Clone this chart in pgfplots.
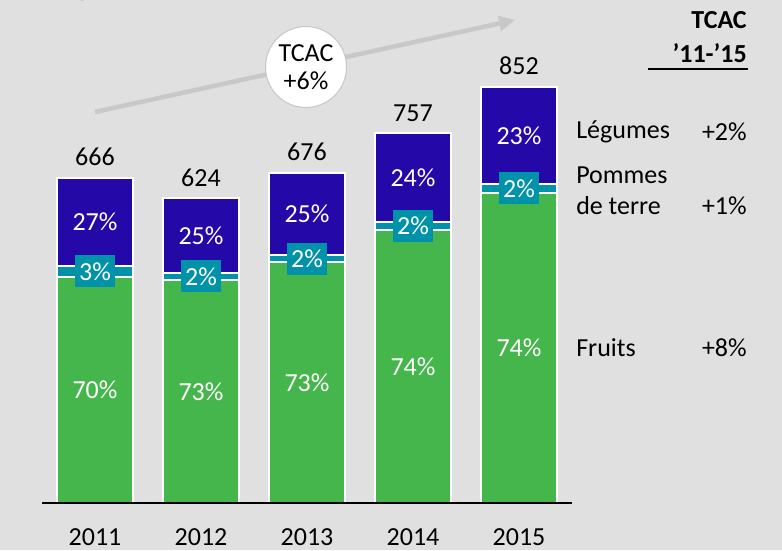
\documentclass[border=0pt]{standalone}
\usepackage{fontspec}
\setmainfont{Carlito}
\usepackage{pgfplots}
\pgfplotsset{compat=1.18}
\usetikzlibrary{arrows.meta}

\definecolor{bg}{HTML}{DFE0DF}
\definecolor{leg}{HTML}{2508A8}
\definecolor{pdt}{HTML}{0092A8}
\definecolor{fru}{HTML}{45B64B}
\definecolor{arr}{HTML}{C8C8C8}
\newcommand\fs{\fontsize{19.5}{23}\selectfont}

% values in thousand tonnes
\pgfplotstableread{
x fruits pdt leg total
0 463 23 180 666
1 457 14 153 624
2 493 14 169 676
3 560 15 182 757
4 635 19 198 852
}\data

\begin{document}
\begin{tikzpicture}[font=\fs,
    totlab/.style={anchor=base, yshift=9pt},
    pclab/.style={white},
    pdtlab/.style={white, fill=pdt, minimum width=30pt, minimum height=24pt, inner sep=0pt}]
\fill[bg] (0,0) rectangle (586.5pt,412.5pt);
\useasboundingbox (0,0) rectangle (586.5pt,412.5pt);

\begin{axis}[
    at={(31.5pt,35.25pt)}, anchor=south west,
    scale only axis, width=397.5pt, height=377.25pt,
    xmin=-0.5, xmax=4.5, ymin=0, ymax=1030,
    ybar stacked, bar width=0.71,
    axis x line=bottom, hide y axis,
    axis line style={-, line width=1.5pt, black},
    axis on top,
    xtick={0,...,4}, xticklabels={2011,2012,2013,2014,2015},
    major tick length=0,
    xticklabel style={font=\fs, anchor=base, yshift=-31.5pt},
    clip=false,
    every axis plot/.append style={draw=white, line width=1.5pt},
]
\addplot[fill=fru] table[x=x, y=fruits] {\data};
\addplot[fill=pdt] table[x=x, y=pdt] {\data};
\addplot[fill=leg] table[x=x, y=leg] {\data};

% totals
\node[totlab] at (axis cs:0,666) {666};
\node[totlab] at (axis cs:1,624) {624};
\node[totlab] at (axis cs:2,676) {676};
\node[totlab] at (axis cs:3,757) {757};
\node[totlab] at (axis cs:4,852) {852};

% segment centres (labels drawn after the axis, on top of the bars)
\coordinate (f0) at (axis cs:0,231.5);
\coordinate (f1) at (axis cs:1,228.5);
\coordinate (f2) at (axis cs:2,246.5);
\coordinate (f3) at (axis cs:3,280);
\coordinate (f4) at (axis cs:4,317.5);
\coordinate (l0) at (axis cs:0,576);
\coordinate (l1) at (axis cs:1,547.5);
\coordinate (l2) at (axis cs:2,591.5);
\coordinate (l3) at (axis cs:3,666);
\coordinate (l4) at (axis cs:4,753);
\coordinate (p0) at (axis cs:0,474.5);
\coordinate (p1) at (axis cs:1,464);
\coordinate (p2) at (axis cs:2,500);
\coordinate (p3) at (axis cs:3,567.5);
\coordinate (p4) at (axis cs:4,644.5);
\end{axis}

\node[pclab] at (f0) {70\%};
\node[pclab] at (f1) {73\%};
\node[pclab] at (f2) {73\%};
\node[pclab] at (f3) {74\%};
\node[pclab] at (f4) {74\%};
\node[pclab] at (l0) {27\%};
\node[pclab] at (l1) {25\%};
\node[pclab] at (l2) {25\%};
\node[pclab] at (l3) {24\%};
\node[pclab] at (l4) {23\%};
\node[pdtlab] at (p0) {3\%};
\node[pdtlab] at (p1) {2\%};
\node[pdtlab] at (p2) {2\%};
\node[pdtlab] at (p3) {2\%};
\node[pdtlab] at (p4) {2\%};

\begin{scope}[x=0.75pt, y=0.75pt]
% cut-off title
\node[anchor=base, font=\fs\bfseries, inner sep=0pt] at (86,553) {p};
% growth arrow
\draw[arr, line width=3.4pt, -{Triangle[length=12pt, width=11pt]}] (95,438) -- (515,530);
\node[circle, fill=white, draw=arr, line width=0.8pt, minimum size=60.75pt, inner sep=0pt, align=center, font=\fontsize{19.5}{21}\selectfont]
  at (306,483) {TCAC\\+6\%};
% CAGR column
\node[anchor=east, font=\fs\bfseries, inner sep=0pt] at (747,530) {TCAC};
\node[anchor=east, font=\fs\bfseries, inner sep=0pt] at (747,497) {’11-’15};
\draw[line width=1.1pt] (648,481) -- (748,481);
\node[anchor=west, inner sep=0pt] at (576,418) {Légumes};
\node[anchor=east, inner sep=0pt] at (747,418) {+2\%};
\node[anchor=west, inner sep=0pt] at (576,375) {Pommes};
\node[anchor=west, inner sep=0pt] at (576,344) {de terre};
\node[anchor=east, inner sep=0pt] at (747,344) {+1\%};
\node[anchor=west, inner sep=0pt] at (576,202) {Fruits};
\node[anchor=east, inner sep=0pt] at (747,202) {+8\%};
\end{scope}
\end{tikzpicture}
\end{document}
